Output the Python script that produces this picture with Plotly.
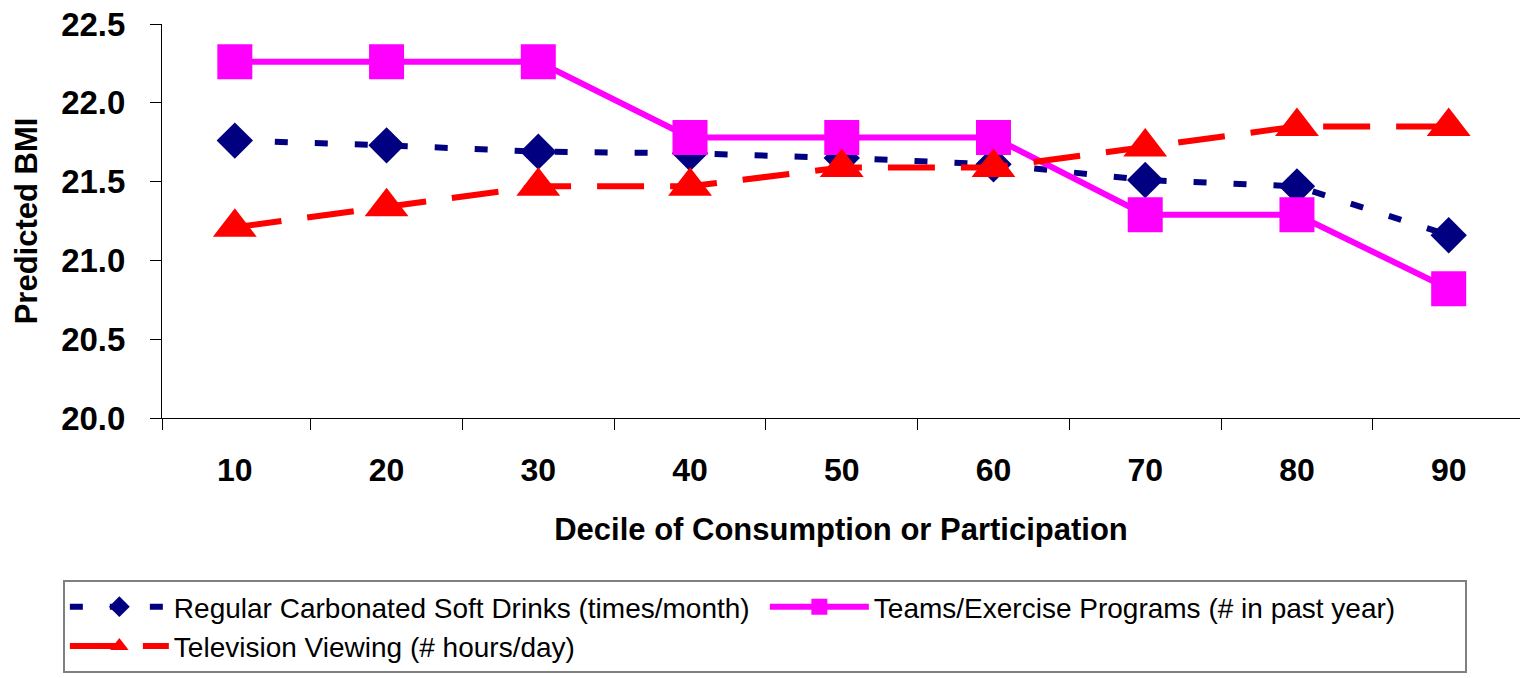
import plotly.graph_objects as go

# Decile of consumption / participation
deciles = [10, 20, 30, 40, 50, 60, 70, 80, 90]

# Predicted BMI for each behaviour
soft_drinks = [21.76, 21.73, 21.69, 21.68, 21.65, 21.61, 21.51, 21.47, 21.16]
teams_exercise = [22.26, 22.26, 22.26, 21.78, 21.78, 21.78, 21.29, 21.29, 20.82]
tv_viewing = [21.21, 21.34, 21.47, 21.47, 21.59, 21.59, 21.72, 21.85, 21.85]

series_names = [
    "Regular Carbonated Soft Drinks (times/month)",
    "Teams/Exercise Programs (# in past year)",
    "Television Viewing (# hours/day)",
]

y_ticks = [20.0, 20.5, 21.0, 21.5, 22.0, 22.5]
x_boundaries = [5.2, 15, 25, 35, 45, 55, 65, 75, 85]

FONT = "Liberation Sans, Arial, sans-serif"

fig = go.Figure()

fig.add_trace(go.Scatter(
    x=deciles, y=soft_drinks, name=series_names[0], mode="lines+markers",
    line=dict(color="#000080", width=6, dash="13px,27px"),
    marker=dict(symbol="diamond", size=28, color="#000080"),
))
fig.add_trace(go.Scatter(
    x=deciles, y=teams_exercise, name=series_names[1], mode="lines+markers",
    line=dict(color="#FF00FF", width=6),
    marker=dict(symbol="square", size=35, color="#FF00FF"),
))
fig.add_trace(go.Scatter(
    x=deciles, y=tv_viewing, name=series_names[2], mode="lines+markers",
    line=dict(color="#FF0000", width=6, dash="47px,26px"),
    marker=dict(symbol="triangle-up", size=38, color="#FF0000"),
))

fig.update_layout(
    width=1520, height=678,
    margin=dict(l=162, r=0, t=24, b=260, autoexpand=False),
    paper_bgcolor="white", plot_bgcolor="white",
    font=dict(family=FONT, color="black"),
    xaxis=dict(
        range=[5.2, 94.7],
        tickvals=deciles, ticktext=[str(d) for d in deciles],
        ticks="", ticklabelstandoff=24,
        tickfont=dict(family=FONT, size=32, color="black", weight="bold"),
        minor=dict(tickvals=x_boundaries, ticks="outside", ticklen=11,
                   tickcolor="black", tickwidth=1, showgrid=False),
        showline=True, linecolor="black", linewidth=1,
        showgrid=False, zeroline=False,
        title=dict(text="Decile of Consumption or Participation",
                   font=dict(family=FONT, size=31, color="black", weight="bold"),
                   standoff=30),
    ),
    yaxis=dict(
        range=[20.0, 22.5],
        tickvals=y_ticks, tickformat=".1f",
        ticks="outside", ticklen=11, tickcolor="black", tickwidth=1,
        ticklabelstandoff=18,
        tickfont=dict(family=FONT, size=33, color="black", weight="bold"),
        showline=True, linecolor="black", linewidth=1,
        showgrid=False, zeroline=False,
        title=dict(text="Predicted BMI",
                   font=dict(family=FONT, size=31, color="black", weight="bold"),
                   standoff=14),
    ),
    legend=dict(
        orientation="h", x=-0.073, xanchor="left", y=-0.411, yanchor="top",
        bgcolor="white", bordercolor="#808080", borderwidth=2,
        font=dict(family=FONT, size=28, color="black"),
        itemwidth=99, entrywidth=586, traceorder="normal",
    ),
)

fig.write_html("out.html")
